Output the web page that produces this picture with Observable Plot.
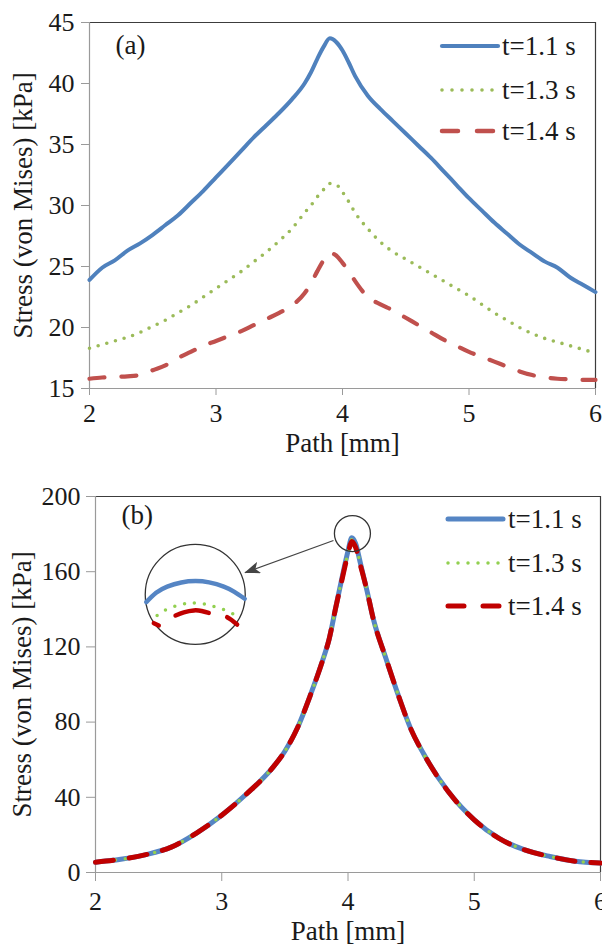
<!DOCTYPE html>
<html>
<head>
<meta charset="utf-8">
<script src="https://cdn.jsdelivr.net/npm/d3@7"></script>
<script src="https://cdn.jsdelivr.net/npm/@observablehq/plot@0.6"></script>
<style>
  html, body { margin: 0; padding: 0; background: #fff; }
  #wrap { width: 602px; }
  svg { display: block; }
</style>
</head>
<body>
<div id="wrap"></div>
<script>
// ---------- data ----------
const seriesNames = ["t=1.1 s", "t=1.3 s", "t=1.4 s"];
const xTicks = [2, 3, 4, 5, 6];
const yTicksA = [15, 20, 25, 30, 35, 40, 45];
const yTicksB = [0, 40, 80, 120, 160, 200];

// panel (a)
const pathA = [2.0, 2.1, 2.2, 2.3, 2.4, 2.5, 2.6, 2.7, 2.8, 2.9, 3.0, 3.1, 3.2, 3.3, 3.4, 3.5, 3.6, 3.7, 3.75, 3.8, 3.85, 3.9, 3.95, 4.0, 4.05, 4.1, 4.2, 4.3, 4.4, 4.5, 4.6, 4.7, 4.8, 4.9, 5.0, 5.1, 5.2, 5.3, 5.4, 5.5, 5.6, 5.7, 5.8, 5.9, 6.0];
const stressA11 = [23.9, 24.9, 25.5, 26.3, 26.9, 27.6, 28.4, 29.2, 30.2, 31.2, 32.3, 33.4, 34.5, 35.6, 36.6, 37.6, 38.7, 40.0, 40.9, 42.0, 43.0, 43.7, 43.4, 42.7, 41.7, 40.6, 39.0, 37.9, 36.9, 35.9, 34.9, 33.9, 32.8, 31.7, 30.6, 29.6, 28.6, 27.7, 26.8, 26.1, 25.4, 24.9, 24.1, 23.5, 22.9];
const stressA13 = [18.3, 18.6, 18.9, 19.2, 19.6, 20.1, 20.6, 21.2, 21.8, 22.5, 23.2, 23.9, 24.6, 25.4, 26.2, 27.1, 28.1, 29.4, 30.0, 30.7, 31.3, 31.8, 31.7, 31.1, 30.3, 29.4, 28.1, 27.0, 26.2, 25.6, 25.0, 24.4, 23.8, 23.2, 22.6, 21.9, 21.2, 20.6, 20.0, 19.5, 19.1, 18.8, 18.5, 18.2, 17.9];
const stressA14 = [15.8, 15.9, 15.95, 16.0, 16.1, 16.5, 16.9, 17.5, 18.0, 18.5, 18.9, 19.3, 19.7, 20.2, 20.7, 21.2, 21.8, 22.8, 23.6, 24.6, 25.5, 26.1, 25.9, 25.3, 24.6, 23.8, 22.5, 21.9, 21.4, 20.8, 20.2, 19.6, 19.0, 18.5, 18.0, 17.6, 17.2, 16.8, 16.4, 16.1, 15.9, 15.8, 15.75, 15.7, 15.7];

// panel (b)
const pathB = [2.0, 2.2, 2.4, 2.6, 2.8, 3.0, 3.2, 3.4, 3.5, 3.6, 3.7, 3.8, 3.85, 3.9, 3.95, 4.0, 4.03, 4.06, 4.1, 4.15, 4.2, 4.3, 4.4, 4.5, 4.6, 4.8, 5.0, 5.2, 5.4, 5.6, 5.8, 6.0];
const stressB11 = [5.5, 7.0, 9.5, 13.5, 21.0, 30.5, 42.0, 55.5, 64.5, 77.0, 94.0, 113.0, 124.0, 140.0, 156.0, 171.0, 178.0, 175.0, 164.0, 150.0, 135.0, 114.0, 94.0, 76.0, 63.0, 42.5, 28.0, 18.0, 12.0, 8.5, 6.0, 5.0];
const stressB13 = [5.5, 7.0, 9.5, 13.5, 21.0, 30.5, 42.0, 55.5, 64.5, 77.0, 94.0, 113.0, 124.0, 140.0, 155.5, 170.0, 177.0, 174.0, 163.5, 150.0, 135.0, 114.0, 94.0, 76.0, 63.0, 42.5, 28.0, 18.0, 12.0, 8.5, 6.0, 5.0];
const stressB14 = [5.5, 7.0, 9.5, 13.5, 21.0, 30.5, 42.0, 55.5, 64.5, 77.0, 94.0, 113.0, 124.0, 140.0, 155.0, 169.5, 176.0, 173.0, 163.0, 150.0, 135.0, 114.0, 94.0, 76.0, 63.0, 42.5, 28.0, 18.0, 12.0, 8.5, 6.0, 5.0];

// zoom inset of panel (b) (magnified peak, read in panel data units)
const insetBigCircle = [2.79, 147.9];
const insetSmallCircle = [4.035, 180.3];
const insetArrowFrom = [3.885, 176.6];
const insetArrowTo = [3.185, 159.5];
const insetBlueX = [2.402, 2.48, 2.568, 2.68, 2.792, 2.90, 3.016, 3.10, 3.182];
const insetBlueY = [143.8, 148.8, 152.1, 154.3, 155.0, 154.3, 152.1, 149.3, 145.6];
const insetGreenX = [2.488, 2.56, 2.647, 2.72, 2.779, 2.86, 2.937, 3.04, 3.135];
const insetGreenY = [136.7, 139.8, 142.0, 143.1, 143.4, 142.9, 141.5, 139.2, 135.8];
const insetRedX = [2.462, 2.501, 2.634, 2.70, 2.779, 2.84, 2.897, 3.043, 3.08, 3.122];
const insetRedY = [132.6, 131.4, 136.7, 138.4, 139.4, 139.1, 138.1, 135.8, 134.2, 131.9];
const insetRedSeg = [0, 0, 1, 1, 1, 1, 1, 2, 2, 2];

// ---------- helpers ----------
const FONT = "Liberation Serif, Times New Roman, serif";
const TXT = "#1a1a1a";
const AXIS = "#9a9a9a";
const FRAME = "#3c3c3c";
const TICKFS = 26;
const LABFS = 27;
const fmt = d3.format("d");

const rows = (xs, ys) => xs.map((x, i) => ({x, y: ys[i]}));

function addLegend(svg, items, x0, x1, tx, ys) {
  const g = d3.select(svg).append("g").attr("class", "legend");
  items.forEach((it, i) => {
    g.append("line")
      .attr("x1", x0).attr("x2", it.x1 ?? x1)
      .attr("y1", ys[i]).attr("y2", ys[i])
      .attr("stroke", it.color).attr("stroke-width", it.width)
      .attr("stroke-linecap", "round")
      .attr("stroke-dasharray", it.dash || null);
    g.append("text")
      .attr("x", tx).attr("y", ys[i]).attr("dy", "0.33em")
      .attr("text-anchor", "start")
      .attr("fill", TXT).attr("font-family", FONT).attr("font-size", LABFS)
      .text(it.label);
  });
}

// ---------- panel (a) ----------
const colA = ["#4F81BD", "#9BBB59", "#C0504D"];
const chartA = Plot.plot({
  width: 602, height: 460,
  marginTop: 22, marginRight: 7, marginBottom: 72, marginLeft: 89,
  style: {fontFamily: FONT, fontSize: "24px", background: "white", overflow: "visible"},
  x: {domain: [2, 6]},
  y: {domain: [15, 45]},
  marks: [
    Plot.ruleY([45], {stroke: FRAME, strokeWidth: 1.2}),
    Plot.ruleX([6], {stroke: FRAME, strokeWidth: 1.2}),
    Plot.ruleX([2], {stroke: AXIS, strokeWidth: 1.2}),
    Plot.ruleY([15], {stroke: AXIS, strokeWidth: 1.2}),
    Plot.axisX({ticks: xTicks, tickFormat: fmt, tickSize: 7, tickPadding: 8, label: null, stroke: AXIS, fill: TXT, fontSize: TICKFS, fontFamily: FONT}),
    Plot.axisY({ticks: yTicksA, tickFormat: fmt, tickSize: 8, tickPadding: 7, label: null, stroke: AXIS, fill: TXT, fontSize: TICKFS, fontFamily: FONT}),
    Plot.line(rows(pathA, stressA11), {x: "x", y: "y", curve: "monotone-x", stroke: colA[0], strokeWidth: 4}),
    Plot.line(rows(pathA, stressA13), {x: "x", y: "y", curve: "monotone-x", stroke: colA[1], strokeWidth: 3.6, strokeDasharray: "0 9", strokeLinecap: "round"}),
    Plot.line(rows(pathA, stressA14), {x: "x", y: "y", curve: "monotone-x", stroke: colA[2], strokeWidth: 4.2, strokeDasharray: "15 17", strokeLinecap: "round"}),
    Plot.text(["Path [mm]"], {text: d => d, frameAnchor: "bottom", dy: 44, lineAnchor: "top", textAnchor: "middle", fill: TXT, fontSize: LABFS, fontFamily: FONT}),
    Plot.text(["Stress (von Mises) [kPa]"], {text: d => d, frameAnchor: "left", rotate: -90, dx: -66, lineAnchor: "middle", textAnchor: "middle", fill: TXT, fontSize: LABFS, fontFamily: FONT}),
    Plot.text(["(a)"], {text: d => d, frameAnchor: "top-left", dx: 26, dy: 23, textAnchor: "start", lineAnchor: "middle", fill: TXT, fontSize: LABFS, fontFamily: FONT})
  ]
});
addLegend(chartA, [
  {label: seriesNames[0], color: colA[0], width: 4.2},
  {label: seriesNames[1], color: colA[1], width: 3.6, dash: "0 10", x1: 493},
  {label: seriesNames[2], color: colA[2], width: 4.5, dash: "16 19"}
], 442, 498, 502, [46, 90, 131]);

// ---------- panel (b) ----------
const colB = ["#5585C4", "#92D050", "#C00000"];
const chartB = Plot.plot({
  width: 602, height: 485,
  marginTop: 36, marginRight: 2, marginBottom: 73, marginLeft: 95,
  style: {fontFamily: FONT, fontSize: "24px", background: "white", overflow: "visible"},
  x: {domain: [2, 6]},
  y: {domain: [0, 200]},
  marks: [
    Plot.ruleY([200], {stroke: FRAME, strokeWidth: 1.2}),
    Plot.ruleX([6], {stroke: FRAME, strokeWidth: 1.2}),
    Plot.ruleX([2], {stroke: AXIS, strokeWidth: 1.2}),
    Plot.ruleY([0], {stroke: AXIS, strokeWidth: 1.2}),
    Plot.axisX({ticks: xTicks, tickFormat: fmt, tickSize: 9, tickPadding: 10, label: null, stroke: AXIS, fill: TXT, fontSize: TICKFS, fontFamily: FONT}),
    Plot.axisY({ticks: yTicksB, tickFormat: fmt, tickSize: 9, tickPadding: 6, label: null, stroke: AXIS, fill: TXT, fontSize: TICKFS, fontFamily: FONT}),
    Plot.line(rows(pathB, stressB11), {x: "x", y: "y", curve: "monotone-x", stroke: colB[0], strokeWidth: 5}),
    Plot.line(rows(pathB, stressB13), {x: "x", y: "y", curve: "monotone-x", stroke: colB[1], strokeWidth: 3.5, strokeDasharray: "0 10", strokeLinecap: "round"}),
    Plot.line(rows(pathB, stressB14), {x: "x", y: "y", curve: "monotone-x", stroke: colB[2], strokeWidth: 5, strokeDasharray: "18 16", strokeLinecap: "round"}),
    // inset circles and arrow
    Plot.dot([insetBigCircle], {x: d => d[0], y: d => d[1], r: 50, fill: "white", stroke: "#333", strokeWidth: 1.3}),
    Plot.dot([insetSmallCircle], {x: d => d[0], y: d => d[1], r: 18, fill: "none", stroke: "#333", strokeWidth: 1.3}),
    Plot.link([[insetArrowFrom, insetArrowTo]], {x1: d => d[0][0], y1: d => d[0][1], x2: d => d[1][0], y2: d => d[1][1], stroke: "#444", strokeWidth: 1.3, className: "zoomarrow"}),
    Plot.line(rows(insetBlueX, insetBlueY), {x: "x", y: "y", curve: "natural", stroke: colB[0], strokeWidth: 4.5}),
    Plot.line(rows(insetGreenX, insetGreenY), {x: "x", y: "y", curve: "natural", stroke: colB[1], strokeWidth: 3.5, strokeDasharray: "0 10", strokeLinecap: "round"}),
    Plot.line(insetRedX.map((x, i) => ({x, y: insetRedY[i], s: insetRedSeg[i]})), {x: "x", y: "y", z: "s", curve: "natural", stroke: colB[2], strokeWidth: 4.5, strokeLinecap: "round"}),
    Plot.text(["Path [mm]"], {text: d => d, frameAnchor: "bottom", dy: 48, lineAnchor: "top", textAnchor: "middle", fill: TXT, fontSize: LABFS, fontFamily: FONT}),
    Plot.text(["Stress (von Mises) [kPa]"], {text: d => d, frameAnchor: "left", rotate: -90, dx: -73, lineAnchor: "middle", textAnchor: "middle", fill: TXT, fontSize: LABFS, fontFamily: FONT}),
    Plot.text(["(b)"], {text: d => d, frameAnchor: "top-left", dx: 26, dy: 19, textAnchor: "start", lineAnchor: "middle", fill: TXT, fontSize: LABFS, fontFamily: FONT})
  ]
});
addLegend(chartB, [
  {label: seriesNames[0], color: colB[0], width: 5},
  {label: seriesNames[1], color: colB[1], width: 3.5, dash: "0 10", x1: 500},
  {label: seriesNames[2], color: colB[2], width: 5, dash: "16 19"}
], 448, 503, 508, [59, 103, 146]);

// filled arrow head for the zoom pointer
const defs = d3.select(chartB).append("defs");
defs.append("marker")
  .attr("id", "zoomhead").attr("viewBox", "0 0 16 12")
  .attr("refX", 15).attr("refY", 6)
  .attr("markerWidth", 16).attr("markerHeight", 12)
  .attr("markerUnits", "userSpaceOnUse").attr("orient", "auto")
  .append("path").attr("d", "M0,0 L16,6 L0,12 L4,6 Z").attr("fill", "#444");
d3.select(chartB).selectAll("g.zoomarrow path, g.zoomarrow line").attr("marker-end", "url(#zoomhead)");

document.getElementById("wrap").append(chartA, chartB);
</script>
</body>
</html>
